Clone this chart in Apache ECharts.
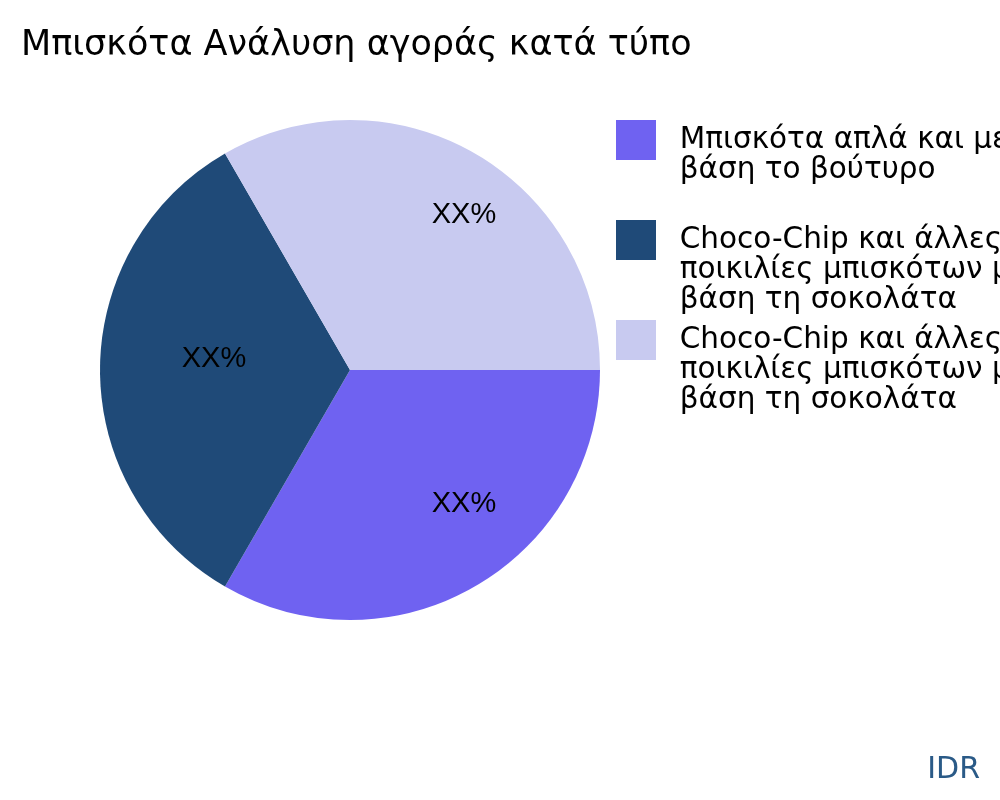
<!DOCTYPE html>
<html>
<head>
<meta charset="utf-8">
<script src="https://cdn.jsdelivr.net/npm/echarts@6/dist/echarts.min.js"></script>
<style>
  html, body { margin: 0; padding: 0; background: #fff; }
  #main { width: 1000px; height: 800px; }
</style>
</head>
<body>
<div id="main"></div>
<script>
// data
var names = [
    'Μπισκότα απλά και με\nβάση το βούτυρο',
    'Choco-Chip και άλλες\nποικιλίες μπισκότων με\nβάση τη σοκολάτα',
    'Choco-Chip και άλλες\nποικιλίες μπισκότων με\nβάση τη σοκολάτα '
];
var values = [1, 1, 1];
var labels = ['XX%', 'XX%', 'XX%'];
var colors = ['#6f62f1', '#1f4a78', '#c8caf0'];

var pieData = [];
for (var i in names) {
    pieData.push({ name: names[i], value: values[i], label: { formatter: labels[i] } });
}

// one legend per entry, first text line level with the square
function legendFor(i, top) {
    var lines = names[i].split('\n');
    return {
        orient: 'vertical',
        left: 616,
        top: top,
        padding: 0,
        itemWidth: 40,
        itemHeight: 40,
        icon: 'rect',
        data: [names[i]],
        selectedMode: false,
        formatter: function (name) {
            var out = [];
            for (var k = 1; k < lines.length; k++) out.push('');
            for (var k = 0; k < lines.length; k++) out.push('  ' + lines[k]);
            return out.join('\n');
        },
        textStyle: {
            fontFamily: 'DejaVu Sans',
            fontSize: 29.5,
            lineHeight: 30,
            color: '#000'
        }
    };
}

var myChart = echarts.init(document.getElementById('main'));
var offsets = [[50, 23], [-8, -11], [50, -44]];
myChart.setOption({
    color: colors,
    animation: false,
    title: [{
        text: 'Μπισκότα Ανάλυση αγοράς κατά τύπο',
        left: 16,
        top: 23,
        textStyle: { fontFamily: 'DejaVu Sans', fontSize: 35, fontWeight: 'normal', color: '#000' }
    }, {
        text: 'IDR',
        right: 15,
        bottom: 10,
        textStyle: { fontFamily: 'DejaVu Sans', fontSize: 30, fontWeight: 'normal', color: '#2a5a87' }
    }],
    legend: [legendFor(0, 95), legendFor(1, 165), legendFor(2, 265)],
    series: [{
        type: 'pie',
        center: [350, 370],
        radius: 250,
        startAngle: 0,
        clockwise: true,
        data: pieData,
        label: {
            position: 'inside',
            fontFamily: 'Liberation Sans',
            fontSize: 29,
            color: '#000'
        },
        labelLine: { show: false },
        labelLayout: function (params) {
            return { dx: offsets[params.dataIndex][0], dy: offsets[params.dataIndex][1] };
        },
        emphasis: { disabled: true }
    }]
});
</script>
</body>
</html>
